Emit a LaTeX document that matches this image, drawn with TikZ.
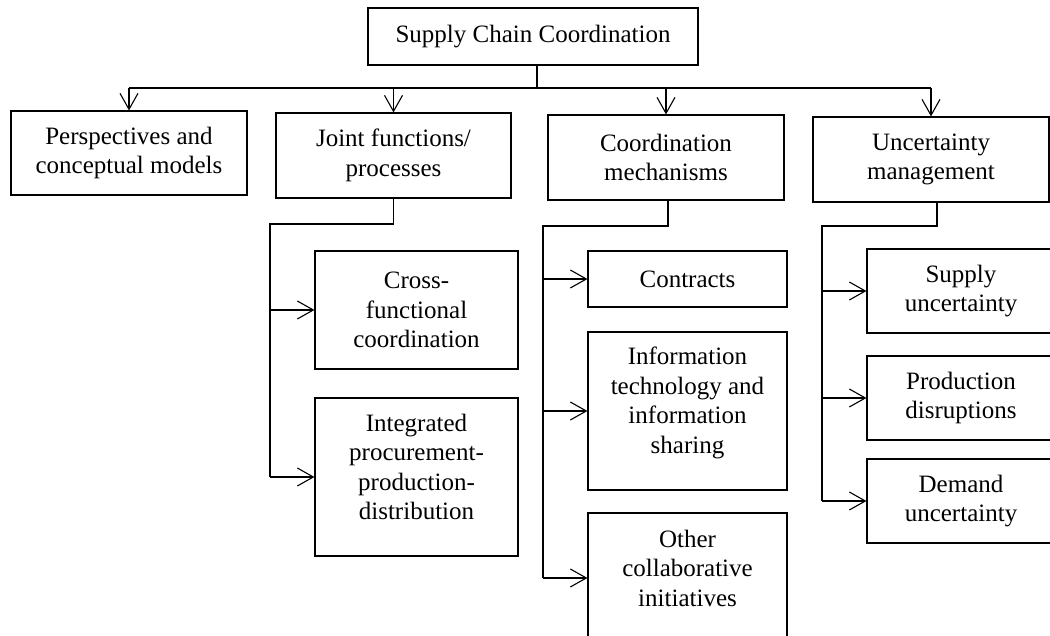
\documentclass[tikz,border=0pt]{standalone}
\usepackage{fontspec}
\setmainfont{Liberation Serif}
\usetikzlibrary{arrows.meta,calc}
\begin{document}
\begin{tikzpicture}[x=1pt,y=-1pt,
  txt/.style={align=center, inner sep=0pt, font=\fontsize{25}{29.5}\selectfont},
  box/.style={draw, line width=1.1pt, txt},
  conn/.style={line width=1.5pt},
  arr/.style={line width=1.1pt, -{Straight Barb[length=16pt,width=18pt,line width=1.1pt]}}
]
\useasboundingbox (0,0) rectangle (1050,636);
\clip (0,0) rectangle (1050,636);
\fill[white] (0,0) rectangle (1050,636);

% top level
\node[box, minimum width=330, minimum height=57] (top) at (533,36.5) {Supply Chain Coordination};
\node[box, minimum width=236, minimum height=84] (persp) at (129,153) {Perspectives and\\conceptual models};
\node[box, minimum width=235, minimum height=85] (joint) at (393.5,155.5) {Joint functions/\\processes};
\node[box, minimum width=236, minimum height=85] (coord) at (666,157.5) {Coordination\\mechanisms};
\node[box, minimum width=236, minimum height=85] (unc) at (931,159.5) {Uncertainty\\management};

% joint functions branch
\node[box, minimum width=203, minimum height=118] (cross) at (416.5,310) {Cross-\\functional\\coordination};
\node[box, minimum width=203, minimum height=158,
  label={[txt,yshift=10pt]center:{Integrated\\procurement-\\production-\\distribution}}] (integ) at (416.5,477) {};

% coordination mechanisms branch
\node[box, minimum width=199, minimum height=56] (contr) at (687.5,279) {Contracts};
\node[box, minimum width=199, minimum height=158,
  label={[txt,yshift=8pt]center:{Information\\technology and\\information\\sharing}}] (info) at (687.5,411) {};
\node[box, minimum width=199, minimum height=130,
  label={[txt,yshift=10pt]center:{Other\\collaborative\\initiatives}}] (other) at (687.5,578) {};

% uncertainty branch
\node[box, minimum width=188, minimum height=84] (sup) at (961,291) {Supply\\uncertainty};
\node[box, minimum width=188, minimum height=84] (prod) at (961,398) {Production\\disruptions};
\node[box, minimum width=188, minimum height=84] (dem) at (961,501) {Demand\\uncertainty};

% top connectors
\coordinate (bus) at (0,88);
\coordinate (ts) at ($(top.south)+(4,0)$);
\draw[conn] (ts) -- (ts |- bus);
\draw[conn] (persp.north |- bus) -- (unc.north |- bus);
\draw[arr] (persp.north |- bus) -- (persp.north);
\draw[arr] (joint.north |- bus) -- (joint.north);
\draw[arr] (coord.north |- bus) -- (coord.north);
\draw[arr] (unc.north |- bus) -- (unc.north);

% joint branch connectors
\coordinate (jb) at (270,224);
\draw[conn] (joint.south) |- (jb) -- (jb |- integ.west);
\draw[arr] (jb |- cross.west) -- (cross.west);
\draw[arr] (jb |- integ.west) -- (integ.west);

% coordination branch connectors
\coordinate (cs) at ($(coord.south)+(2,0)$);
\coordinate (cb) at (543,226);
\draw[conn] (cs) |- (cb) -- (cb |- other.west);
\draw[arr] (cb |- contr.west) -- (contr.west);
\draw[arr] (cb |- info.west) -- (info.west);
\draw[arr] (cb |- other.west) -- (other.west);

% uncertainty branch connectors
\coordinate (us) at ($(unc.south)+(6,0)$);
\coordinate (ub) at (822,226);
\draw[conn] (us) |- (ub) -- (ub |- dem.west);
\draw[arr] (ub |- sup.west) -- (sup.west);
\draw[arr] (ub |- prod.west) -- (prod.west);
\draw[arr] (ub |- dem.west) -- (dem.west);
\end{tikzpicture}
\end{document}
